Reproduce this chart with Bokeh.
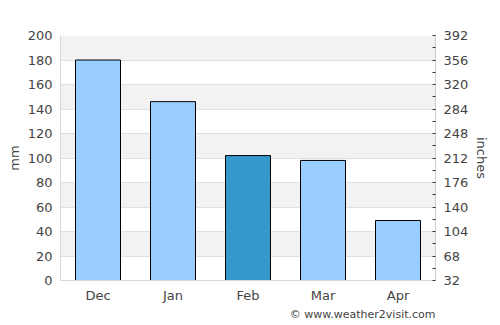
from bokeh.plotting import figure
from bokeh.models import LinearAxis, Range1d, FixedTicker, Title, ColumnDataSource
from bokeh.embed import file_html
from bokeh.resources import INLINE

months = ["Dec", "Jan", "Feb", "Mar", "Apr"]
rain_mm = [180, 146, 102, 98, 49]
colors = ["#99ccff", "#99ccff", "#3399cc", "#99ccff", "#99ccff"]
left_ticks = [0, 20, 40, 60, 80, 100, 120, 140, 160, 180, 200]
right_ticks = [32, 68, 104, 140, 176, 212, 248, 284, 320, 356, 392]
right_minor = [50, 86, 122, 158, 194, 230, 266, 302, 338, 374]

src = ColumnDataSource(dict(x=months, top=rain_mm, color=colors))

p = figure(width=500, height=325, x_range=months, y_range=Range1d(0, 200),
           output_backend="svg", toolbar_location=None,
           min_border_left=60, min_border_right=65, min_border_top=35, min_border_bottom=45)
p.background_fill_color = "white"
p.outline_line_color = None

p.vbar(x="x", top="top", width=0.6, source=src, fill_color="color",
       line_color="black", line_width=1)

p.extra_y_ranges = {"right": Range1d(32, 392)}

text_color = "#444444"
font = "DejaVu Sans"

p.yaxis.ticker = FixedTicker(ticks=left_ticks)
p.yaxis.axis_label = "mm"
p.yaxis.major_tick_line_color = None
p.yaxis.minor_tick_line_color = None
p.yaxis.major_tick_out = 0
p.yaxis.minor_tick_out = 0
p.yaxis.major_label_standoff = 8
p.yaxis.axis_label_standoff = 3
p.yaxis.axis_line_color = "#d8d8d8"

ax_r = LinearAxis(y_range_name="right", axis_label="inches")
ax_r.ticker = FixedTicker(ticks=right_ticks, minor_ticks=right_minor)
ax_r.axis_line_color = "#cccccc"
ax_r.major_tick_line_color = "#333333"
ax_r.minor_tick_line_color = "#333333"
ax_r.major_tick_in = 3
ax_r.major_tick_out = 0
ax_r.minor_tick_in = 3
ax_r.minor_tick_out = 0
ax_r.major_label_standoff = 8
ax_r.axis_label_standoff = 3
p.add_layout(ax_r, "right")

p.xaxis.major_tick_line_color = None
p.xaxis.minor_tick_line_color = None
p.xaxis.major_tick_out = 0
p.xaxis.minor_tick_out = 0
p.xaxis.axis_line_color = "#d8d8d8"
p.xaxis.major_label_standoff = 7

for ax in [p.xaxis[0], p.yaxis[0], ax_r]:
    ax.major_label_text_color = text_color
    ax.major_label_text_font = font
    ax.major_label_text_font_size = "13px"
    ax.axis_label_text_color = text_color
    ax.axis_label_text_font = font
    ax.axis_label_text_font_size = "13px"
    ax.axis_label_text_font_style = "normal"

p.xgrid.grid_line_color = None
p.ygrid.ticker = FixedTicker(ticks=left_ticks)
p.ygrid.grid_line_color = "#e0e0e0"
p.ygrid.band_fill_color = "#f2f2f2"
p.ygrid.band_fill_alpha = 1.0

p.add_layout(Title(text="© www.weather2visit.com", align="right", standoff=0,
                   text_font=font, text_font_size="11px", text_font_style="normal",
                   text_color=text_color), "below")

open("out.html", "w").write(file_html(p, INLINE))
